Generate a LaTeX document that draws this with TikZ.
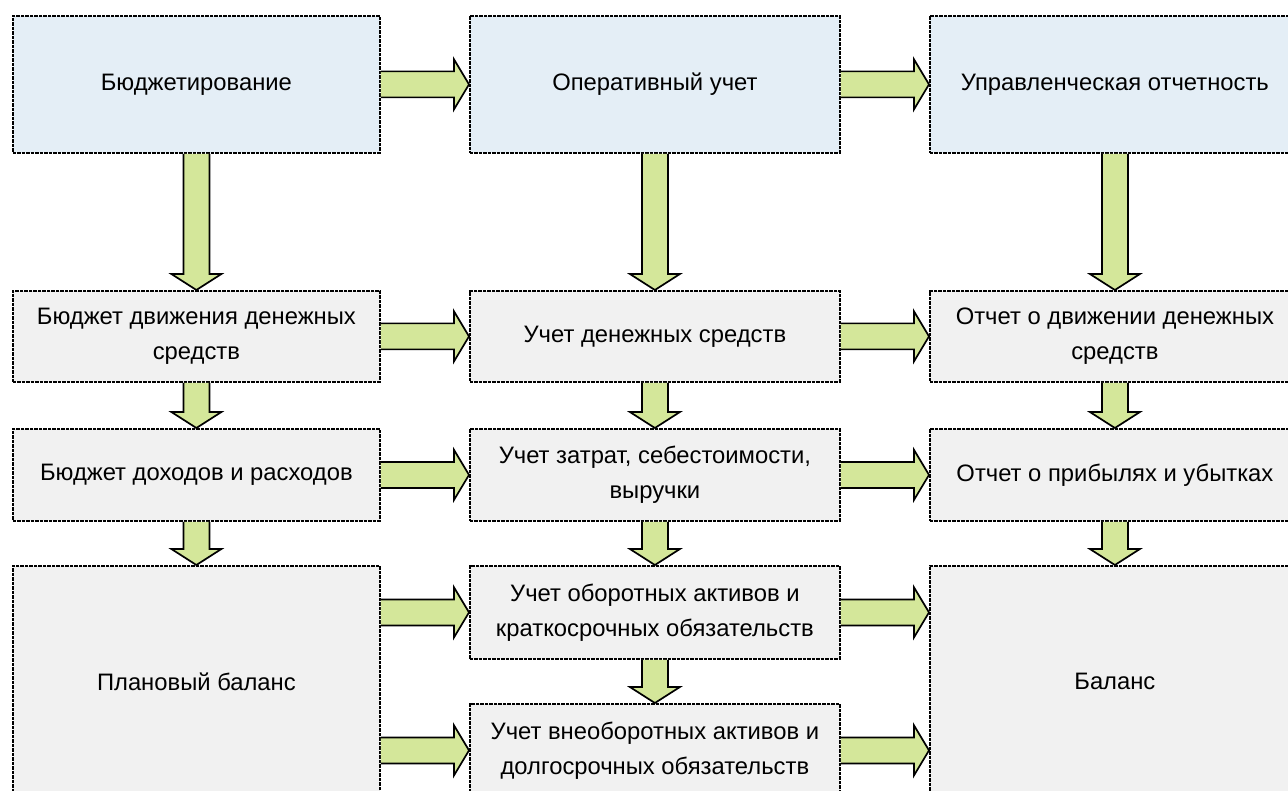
\documentclass[tikz,border=0pt]{standalone}
\usepackage{fontspec}
\setmainfont{Liberation Sans}
\usetikzlibrary{calc}
\definecolor{topfill}{HTML}{E4EEF6}
\definecolor{boxfill}{HTML}{F1F1F1}
\definecolor{arrowgreen}{HTML}{D4E79A}
\tikzset{
  box/.style={draw=black, line width=1.8pt, dash pattern=on 3.5pt off 1pt,
    fill=boxfill, inner sep=0pt, align=center, anchor=north west,
    font=\fontsize{23.8}{35}\selectfont},
  topbox/.style={box, fill=topfill},
  fatline/.style={draw=black, line width=1.7pt, line join=miter},
}
\newcommand\hfat[2]{%
  \fill[arrowgreen] let \p1=(#1), \p2=(#2) in
    (\x1,\y2-13pt) -- (\x2-15pt,\y2-13pt) -- (\x2-15pt,\y2-25pt) -- (\x2,\y2)
    -- (\x2-15pt,\y2+25pt) -- (\x2-15pt,\y2+13pt) -- (\x1,\y2+13pt) -- cycle;
  \draw[fatline] let \p1=(#1), \p2=(#2) in
    (\x1,\y2-13pt) -- (\x2-15pt,\y2-13pt) -- (\x2-15pt,\y2-25pt) -- (\x2,\y2)
    -- (\x2-15pt,\y2+25pt) -- (\x2-15pt,\y2+13pt) -- (\x1,\y2+13pt);
}
\newcommand\vfat[2]{%
  \fill[arrowgreen] let \p1=(#1), \p2=(#2) in
    (\x1-13pt,\y1) -- (\x1-13pt,\y2+16pt) -- (\x1-25pt,\y2+16pt) -- (\x1,\y2)
    -- (\x1+25pt,\y2+16pt) -- (\x1+13pt,\y2+16pt) -- (\x1+13pt,\y1) -- cycle;
  \draw[fatline] let \p1=(#1), \p2=(#2) in
    (\x1-13pt,\y1) -- (\x1-13pt,\y2+16pt) -- (\x1-25pt,\y2+16pt) -- (\x1,\y2)
    -- (\x1+25pt,\y2+16pt) -- (\x1+13pt,\y2+16pt) -- (\x1+13pt,\y1);
}
\begin{document}
\begin{tikzpicture}[x=1pt, y=-1pt]
\useasboundingbox (0,0) rectangle (1288,791);
\fill[white] (0,0) rectangle (1288,791);
\clip (0,0) rectangle (1288,791);

% top row
\node[topbox, minimum width=367, minimum height=137] (bud)  at (12,15)  {Бюджетирование};
\node[topbox, minimum width=370, minimum height=137] (oper) at (469,15) {Оперативный учет};
\node[topbox, minimum width=370, minimum height=137] (upr)  at (929,15) {Управленческая отчетность};

% row 2
\node[box, minimum width=367, minimum height=91] (bdds) at (12,290)  {Бюджет движения денежных\\средств};
\node[box, minimum width=370, minimum height=91] (uds)  at (469,290) {Учет денежных средств};
\node[box, minimum width=370, minimum height=91] (odds) at (929,290) {Отчет о движении денежных\\средств};

% row 3
\node[box, minimum width=367, minimum height=92] (bdr) at (12,428)  {Бюджет доходов и расходов};
\node[box, minimum width=370, minimum height=92] (uz)  at (469,428) {Учет затрат, себестоимости,\\выручки};
\node[box, minimum width=370, minimum height=92] (opu) at (929,428) {Отчет о прибылях и убытках};

% rows 4-5
\node[box, minimum width=367, minimum height=231] (plan) at (12,565)  {Плановый баланс};
\node[box, minimum width=370, minimum height=93]  (uoa)  at (469,565) {Учет оборотных активов и\\краткосрочных обязательств};
\node[box, minimum width=370, minimum height=93]  (uvoa) at (469,703) {Учет внеоборотных активов и\\долгосрочных обязательств};
\node[box, minimum width=370, minimum height=231] (bal)  at (929,565) {Баланс};

% horizontal arrows
\hfat{bud.east}{oper.west}
\hfat{oper.east}{upr.west}
\hfat{bdds.east}{uds.west}
\hfat{uds.east}{odds.west}
\hfat{bdr.east}{uz.west}
\hfat{uz.east}{opu.west}
\hfat{plan.east |- uoa.west}{uoa.west}
\hfat{plan.east |- uvoa.west}{uvoa.west}
\hfat{uoa.east}{bal.west |- uoa.east}
\hfat{uvoa.east}{bal.west |- uvoa.east}

% vertical arrows
\vfat{bud.south}{bdds.north}
\vfat{bdds.south}{bdr.north}
\vfat{bdr.south}{plan.north}
\vfat{oper.south}{uds.north}
\vfat{uds.south}{uz.north}
\vfat{uz.south}{uoa.north}
\vfat{uoa.south}{uvoa.north}
\vfat{upr.south}{odds.north}
\vfat{odds.south}{opu.north}
\vfat{opu.south}{bal.north}
\end{tikzpicture}
\end{document}
